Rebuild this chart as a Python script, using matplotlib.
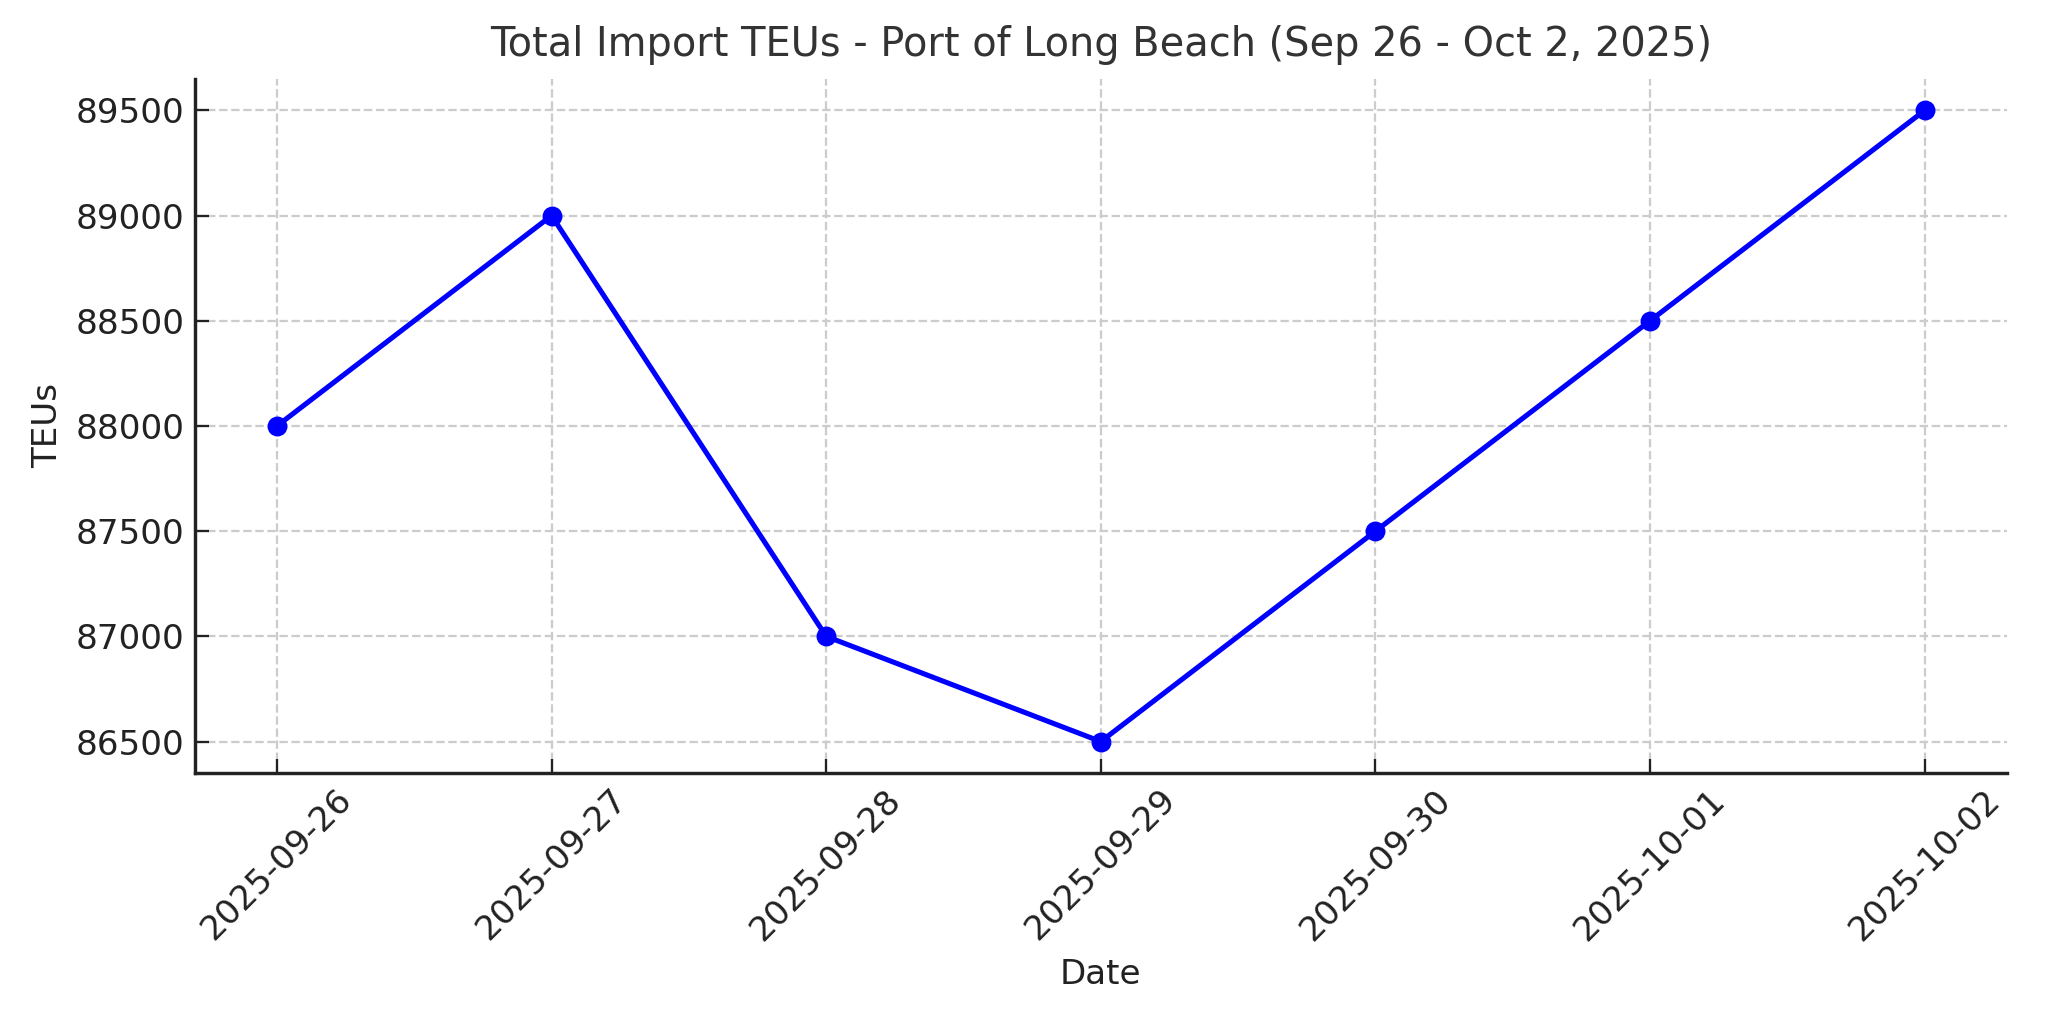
import numpy as np
import matplotlib
matplotlib.use("Agg")
import matplotlib.pyplot as plt
import pandas as pd

dates = ["2025-09-26", "2025-09-27", "2025-09-28", "2025-09-29",
         "2025-09-30", "2025-10-01", "2025-10-02"]
teus = [88000, 89000, 87000, 86500, 87500, 88500, 89500]

x = pd.to_datetime(dates)

fig = plt.figure(figsize=(10, 5), dpi=204.8)
ax = fig.add_axes([0.095, 0.245, 0.885, 0.678])

ax.plot(x, teus, marker='o', color='blue', linewidth=1.8, markersize=6)

ax.set_title("Total Import TEUs - Port of Long Beach (Sep 26 - Oct 2, 2025)",
             fontsize=14, color='#333333', pad=8)
ax.set_xlabel("Date", fontsize=12, color='#222222')
ax.set_ylabel("TEUs", fontsize=12, color='#222222')

ax.set_xticks(x)
ax.set_xticklabels(dates, rotation=45, fontsize=12)
ax.tick_params(axis='y', labelsize=12)
ax.tick_params(direction='in', length=5, colors='#222222')

ax.grid(True, linestyle='--', color='#cccccc', linewidth=0.8)
ax.spines['top'].set_visible(False)
ax.spines['right'].set_visible(False)
for s in ['left', 'bottom']:
    ax.spines[s].set_color('#222222')
    ax.spines[s].set_linewidth(1.2)

fig.savefig("out.png", dpi=204.8)
